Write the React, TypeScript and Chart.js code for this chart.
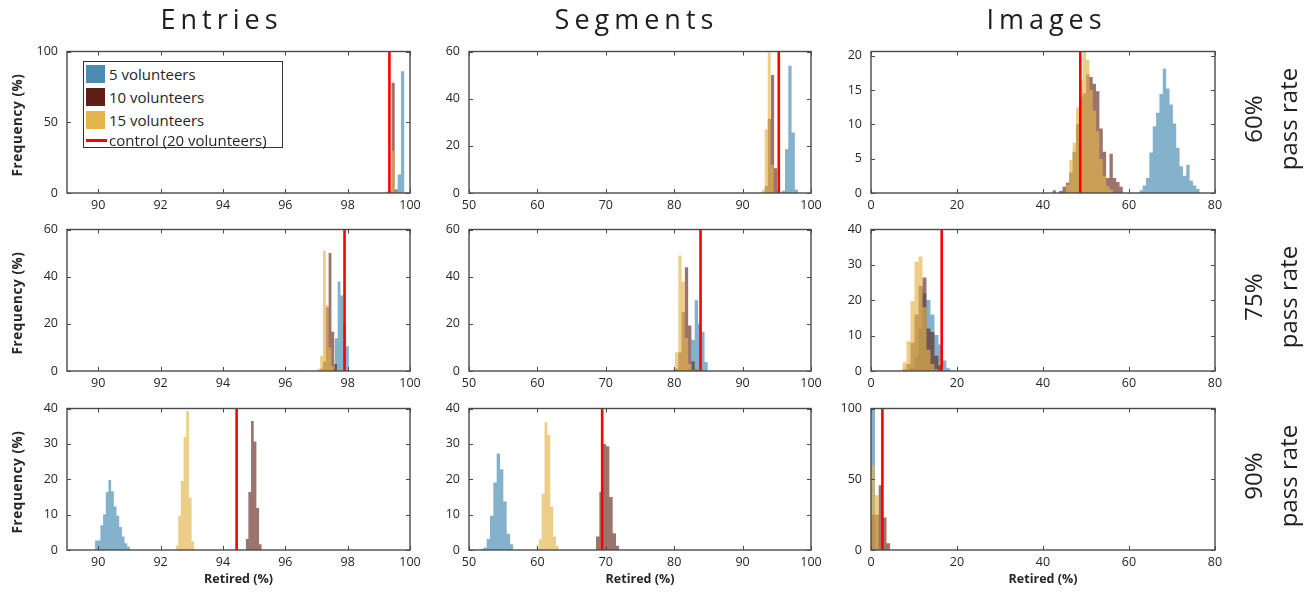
import React, { useEffect, useRef } from 'react';
import { Chart, registerables } from 'chart.js';

Chart.register(...registerables);

const FONT = "'Open Sans', 'Noto Sans', sans-serif";

// ---------- axes ----------
const ENTRIES_RANGE = [89, 100];
const SEGMENTS_RANGE = [50, 100];
const IMAGES_RANGE = [0, 80];
const ENTRIES_TICKS = [90, 92, 94, 96, 98, 100];
const SEGMENTS_TICKS = [50, 60, 70, 80, 90, 100];
const IMAGES_TICKS = [0, 20, 40, 60, 80];
const FREQ_TICKS_100 = [0, 50, 100];
const FREQ_TICKS_60 = [0, 20, 40, 60];
const FREQ_TICKS_40 = [0, 10, 20, 30, 40];
const FREQ_TICKS_20 = [0, 5, 10, 15, 20];

const COLUMN_TITLES = ['Entries', 'Segments', 'Images'];
const ROW_LABELS = ['60%', '75%', '90%'];
const LEGEND_LABELS = ['5 volunteers', '10 volunteers', '15 volunteers', 'control (20 volunteers)'];

// ---------- control (20 volunteers) retired % ----------
const CONTROL_60 = [99.34, 95.29, 48.67];
const CONTROL_75 = [97.9, 83.85, 16.44];
const CONTROL_90 = [94.44, 69.47, 2.65];

// ---------- histograms: first bin edge, bin width, frequency (%) per bin ----------
// 60% pass rate
const E60_BLUE = { start: 99.5, width: 0.105, pct: [0.5, 13, 86, 0.5] };
const E60_BROWN = { start: 99.21, width: 0.1, pct: [0.5, 1.5, 78, 2.5] };
const E60_YELLOW = { start: 99.21, width: 0.1, pct: [1, 1.5, 30, 1] };
const S60_BLUE = { start: 95.72, width: 0.48, pct: [1, 18.6, 54, 25.7, 1.5] };
const S60_BROWN = { start: 93.23, width: 0.46, pct: [3, 31.5, 50, 10.5, 1] };
const S60_YELLOW = { start: 92.79, width: 0.44, pct: [1.5, 27, 59.5, 12, 0.5] };
const I60_BLUE = { start: 62.4, width: 0.78, pct: [0.4, 1.1, 2.2, 5.9, 9.7, 11.7, 14.4, 18.1, 15.2, 12.9, 10.1, 6.6, 3.9, 2.5, 4.1, 1.8, 1.1, 0.6] };
const I60_BROWN = { start: 42.2, width: 0.78, pct: [0.4, 0, 0.3, 0.9, 1.5, 3, 6, 10, 14, 14.5, 17.3, 16.9, 15.9, 14.8, 9.4, 6, 2.2, 5.7, 2.2, 1.6, 0.9] };
const I60_YELLOW = { start: 45.33, width: 0.78, pct: [1.2, 4.8, 7.3, 12.5, 16.5, 20.6, 19.4, 15, 12, 9, 5, 2.5, 1, 0.5] };
// 75% pass rate
const E75_BLUE = { start: 97.5, width: 0.09, pct: [1, 13.9, 38, 32, 20, 10.5] };
const E75_BROWN = { start: 97.12, width: 0.09, pct: [1, 4, 27, 50, 16.6, 3] };
const E75_YELLOW = { start: 97.03, width: 0.09, pct: [1, 6.5, 51, 28, 10, 2] };
const S75_BLUE = { start: 82.04, width: 0.48, pct: [1, 13.2, 30, 20, 16.6, 3.8] };
const S75_BROWN = { start: 80.12, width: 0.48, pct: [1, 8, 25, 44, 19.3, 4, 0.5] };
const S75_YELLOW = { start: 79.64, width: 0.48, pct: [0.5, 7.8, 49, 38, 14, 3, 0.5] };
const I75_BLUE = { start: 7.32, width: 0.93, pct: [0, 0, 1, 4, 12, 22, 20.1, 16, 10.2, 7.5, 3, 0.8] };
const I75_BROWN = { start: 7.32, width: 0.93, pct: [0.5, 2, 8, 16, 24, 26.4, 12, 11, 4.3, 1.6] };
const I75_YELLOW = { start: 7.32, width: 0.93, pct: [2.5, 8.4, 19.8, 30.9, 32.4, 18, 6, 2, 0.5] };
// 90% pass rate
const E90_BLUE = { start: 89.9, width: 0.086, pct: [2.7, 2.7, 7.0, 10.1, 16.4, 19.8, 16.6, 12.3, 9.7, 6.5, 3.8, 1.9, 0.9] };
const E90_BROWN = { start: 94.73, width: 0.086, pct: [3.1, 16.4, 36.5, 30.7, 11.9, 1.6] };
const E90_YELLOW = { start: 92.48, width: 0.086, pct: [1.2, 9.7, 19.5, 32, 39.2, 14.8, 2.5] };
const S90_BLUE = { start: 51.61, width: 0.487, pct: [0.3, 0.7, 3.1, 9.7, 19.1, 27.3, 22.8, 13.7, 4.6, 1.6] };
const S90_BROWN = { start: 68.57, width: 0.487, pct: [3.8, 16.4, 30, 29.3, 15, 4.7, 1.2] };
const S90_YELLOW = { start: 59.78, width: 0.42, pct: [0.5, 3.0, 15.9, 36.1, 32.5, 12.3, 3.8, 1.2] };
const I90_BLUE = { start: 0, width: 0.93, pct: [99, 1] };
const I90_BROWN = { start: 0, width: 0.9, pct: [25, 25, 45.8, 23, 4.7] };
const I90_YELLOW = { start: 0, width: 0.9, pct: [60, 38.7, 1] };

// ---------- styles ----------
const BLUE = 'rgb(74,140,180)';
const BROWN = 'rgb(94,31,21)';
const YELLOW = 'rgb(227,181,76)';
const BLUE_FILL = 'rgba(74,140,180,0.68)';
const BROWN_FILL = 'rgba(94,31,21,0.62)';
const YELLOW_FILL = 'rgba(227,181,76,0.66)';
const RED = '#ff0000';
const TEXT = '#262626';

const COL_X = [67, 469, 871];
const COL_W = [343, 342, 344];
const ROW_Y = [45, 223, 402];
const ROW_H = 148;
const PAD_L = 50;
const PAD_R = 22;
const PAD_T = 10;
const PAD_B = 26;

type Hist = { start: number; width: number; pct: number[] };

const PANELS = [
  { row: 0, col: 0, xr: ENTRIES_RANGE, xt: ENTRIES_TICKS, yMax: 100, yt: FREQ_TICKS_100, ctrl: CONTROL_60[0], h: [E60_BLUE, E60_BROWN, E60_YELLOW] },
  { row: 0, col: 1, xr: SEGMENTS_RANGE, xt: SEGMENTS_TICKS, yMax: 60, yt: FREQ_TICKS_60, ctrl: CONTROL_60[1], h: [S60_BLUE, S60_BROWN, S60_YELLOW] },
  { row: 0, col: 2, xr: IMAGES_RANGE, xt: IMAGES_TICKS, yMax: 20.6, yt: FREQ_TICKS_20, ctrl: CONTROL_60[2], h: [I60_BLUE, I60_BROWN, I60_YELLOW] },
  { row: 1, col: 0, xr: ENTRIES_RANGE, xt: ENTRIES_TICKS, yMax: 60, yt: FREQ_TICKS_60, ctrl: CONTROL_75[0], h: [E75_BLUE, E75_BROWN, E75_YELLOW] },
  { row: 1, col: 1, xr: SEGMENTS_RANGE, xt: SEGMENTS_TICKS, yMax: 60, yt: FREQ_TICKS_60, ctrl: CONTROL_75[1], h: [S75_BLUE, S75_BROWN, S75_YELLOW] },
  { row: 1, col: 2, xr: IMAGES_RANGE, xt: IMAGES_TICKS, yMax: 40, yt: FREQ_TICKS_40, ctrl: CONTROL_75[2], h: [I75_BLUE, I75_BROWN, I75_YELLOW] },
  { row: 2, col: 0, xr: ENTRIES_RANGE, xt: ENTRIES_TICKS, yMax: 40, yt: FREQ_TICKS_40, ctrl: CONTROL_90[0], h: [E90_BLUE, E90_BROWN, E90_YELLOW] },
  { row: 2, col: 1, xr: SEGMENTS_RANGE, xt: SEGMENTS_TICKS, yMax: 40, yt: FREQ_TICKS_40, ctrl: CONTROL_90[1], h: [S90_BLUE, S90_BROWN, S90_YELLOW] },
  { row: 2, col: 2, xr: IMAGES_RANGE, xt: IMAGES_TICKS, yMax: 100, yt: FREQ_TICKS_100, ctrl: CONTROL_90[2], h: [I90_BLUE, I90_BROWN, I90_YELLOW] },
];

// one point per left bin edge, plus a closing point at the last right edge
function histPoints(h: Hist) {
  const pts = h.pct.map((v, i) => ({ x: h.start + i * h.width, y: v }));
  pts.push({ x: h.start + h.pct.length * h.width, y: 0 });
  return pts;
}

const framePlugin = {
  id: 'matlabFrame',
  afterDatasetsDraw(chart: any) {
    const { ctx, chartArea: a, scales } = chart;
    ctx.save();
    ctx.strokeStyle = '#4a4a4a';
    ctx.lineWidth = 1;
    const tl = 4;
    ctx.beginPath();
    for (const t of scales.x.ticks) {
      const px = Math.round(scales.x.getPixelForValue(t.value)) + 0.5;
      ctx.moveTo(px, a.bottom);
      ctx.lineTo(px, a.bottom - tl);
      ctx.moveTo(px, a.top);
      ctx.lineTo(px, a.top + tl);
    }
    for (const t of scales.y.ticks) {
      const py = Math.round(scales.y.getPixelForValue(t.value)) + 0.5;
      ctx.moveTo(a.left, py);
      ctx.lineTo(a.left + tl, py);
      ctx.moveTo(a.right, py);
      ctx.lineTo(a.right - tl, py);
    }
    ctx.stroke();
    ctx.lineWidth = 1.4;
    ctx.strokeStyle = '#4a4a4a';
    ctx.strokeRect(a.left, a.top, a.right - a.left, a.bottom - a.top);
    ctx.restore();
  },
};

function histDataset(label: string, h: Hist, fill: string) {
  return {
    label,
    data: histPoints(h),
    stepped: 'before',
    fill: 'origin',
    backgroundColor: fill,
    borderColor: 'rgba(0,0,0,0)',
    borderWidth: 0,
    pointRadius: 0,
  };
}

function Panel({ p }: { p: (typeof PANELS)[number] }) {
  const ref = useRef<HTMLCanvasElement>(null);
  const w = COL_W[p.col] + PAD_L + PAD_R;
  const hgt = ROW_H + PAD_T + PAD_B;
  useEffect(() => {
    const tickFont = { family: FONT, size: 12.5 };
    const chart = new Chart(ref.current as HTMLCanvasElement, {
      type: 'line',
      data: {
        datasets: [
          {
            label: 'control (20 volunteers)',
            data: [{ x: p.ctrl, y: 0 }, { x: p.ctrl, y: p.yMax }],
            borderColor: RED,
            borderWidth: 2.6,
            pointRadius: 0,
            fill: false,
          },
          histDataset('15 volunteers', p.h[2], YELLOW_FILL),
          histDataset('10 volunteers', p.h[1], BROWN_FILL),
          histDataset('5 volunteers', p.h[0], BLUE_FILL),
        ] as any,
      },
      options: {
        responsive: false,
        animation: false,
        devicePixelRatio: 1,
        layout: { padding: { left: 0, right: PAD_R, top: PAD_T, bottom: 0 } },
        plugins: { legend: { display: false }, tooltip: { enabled: false } },
        elements: { point: { radius: 0 } },
        scales: {
          x: {
            type: 'linear',
            min: p.xr[0],
            max: p.xr[1],
            grid: { display: false, drawTicks: false },
            border: { display: false },
            ticks: { font: tickFont, color: TEXT, padding: 5, maxRotation: 0, autoSkip: false },
            afterBuildTicks: (s: any) => {
              s.ticks = p.xt.map((v) => ({ value: v }));
            },
            afterFit: (s: any) => {
              s.height = PAD_B;
            },
          },
          y: {
            type: 'linear',
            min: 0,
            max: p.yMax,
            grid: { display: false, drawTicks: false },
            border: { display: false },
            ticks: { font: tickFont, color: TEXT, padding: 9, autoSkip: false },
            afterBuildTicks: (s: any) => {
              s.ticks = p.yt.map((v) => ({ value: v }));
            },
            afterFit: (s: any) => {
              s.width = PAD_L;
            },
          },
        },
      } as any,
      plugins: [framePlugin],
    });
    return () => chart.destroy();
  }, []);
  return (
    <canvas
      ref={ref}
      width={w}
      height={hgt}
      style={{ position: 'absolute', left: COL_X[p.col] - PAD_L, top: ROW_Y[p.row] - PAD_T, width: w, height: hgt, display: 'block' }}
    />
  );
}

const TITLE_CENTERS = [219, 634, 1044];

export default function App() {
  const rowCenter = (r: number) => ROW_Y[r] + ROW_H / 2;
  const colCenter = (c: number) => COL_X[c] + COL_W[c] / 2;
  return (
    <div style={{ position: 'absolute', left: 0, top: 0, width: 1311, height: 597, background: '#fff', overflow: 'hidden', fontFamily: FONT, color: TEXT }}>
      {PANELS.map((p, i) => (
        <Panel key={i} p={p} />
      ))}
      {COLUMN_TITLES.map((t, i) => (
        <div
          key={t}
          style={{
            position: 'absolute',
            left: TITLE_CENTERS[i],
            top: 18,
            transform: 'translate(-50%, -50%)',
            fontSize: 27,
            letterSpacing: 5,
            paddingLeft: 5,
            whiteSpace: 'nowrap',
            color: '#1e1e1e',
            lineHeight: 1,
          }}
        >
          {t}
        </div>
      ))}
      {ROW_LABELS.map((t, r) => (
        <div
          key={t}
          style={{
            position: 'absolute',
            left: 1270,
            top: rowCenter(r),
            transform: 'translate(-50%, -50%) rotate(-90deg)',
            fontSize: 24,
            lineHeight: '35px',
            whiteSpace: 'pre',
            textAlign: 'center',
            color: '#1e1e1e',
          }}
        >
          {t + '\npass rate'}
        </div>
      ))}
      {[0, 1, 2].map((r) => (
        <div
          key={'f' + r}
          style={{
            position: 'absolute',
            left: 18,
            top: rowCenter(r) + 6,
            transform: 'translate(-50%, -50%) rotate(-90deg)',
            fontSize: 13.5,
            letterSpacing: 0.6,
            fontWeight: 700,
            whiteSpace: 'nowrap',
            lineHeight: 1,
          }}
        >
          Frequency (%)
        </div>
      ))}
      {[0, 1, 2].map((c) => (
        <div
          key={'r' + c}
          style={{
            position: 'absolute',
            left: colCenter(c),
            top: 579,
            transform: 'translate(-50%, -50%)',
            fontSize: 12.5,
            fontWeight: 700,
            whiteSpace: 'nowrap',
            lineHeight: 1,
          }}
        >
          Retired (%)
        </div>
      ))}
      <div
        style={{
          position: 'absolute',
          left: 83,
          top: 61,
          width: 200,
          height: 87,
          boxSizing: 'border-box',
          border: '1px solid #333',
          background: '#fff',
        }}
      >
        {LEGEND_LABELS.map((t, i) => {
          const cy = [11.7, 35, 58.3, 78.3][i];
          const sw = [BLUE, BROWN, YELLOW][i];
          return (
            <React.Fragment key={t}>
              {i < 3 ? (
                <div style={{ position: 'absolute', left: 2, top: cy - 9, width: 19, height: 18, background: sw }} />
              ) : (
                <div style={{ position: 'absolute', left: 2, top: cy - 1.5, width: 21, height: 3, background: RED }} />
              )}
              <div
                style={{
                  position: 'absolute',
                  left: 25,
                  top: cy,
                  transform: 'translateY(-50%)',
                  fontSize: 15,
                  lineHeight: 1,
                  whiteSpace: 'nowrap',
                }}
              >
                {t}
              </div>
            </React.Fragment>
          );
        })}
      </div>
    </div>
  );
}
